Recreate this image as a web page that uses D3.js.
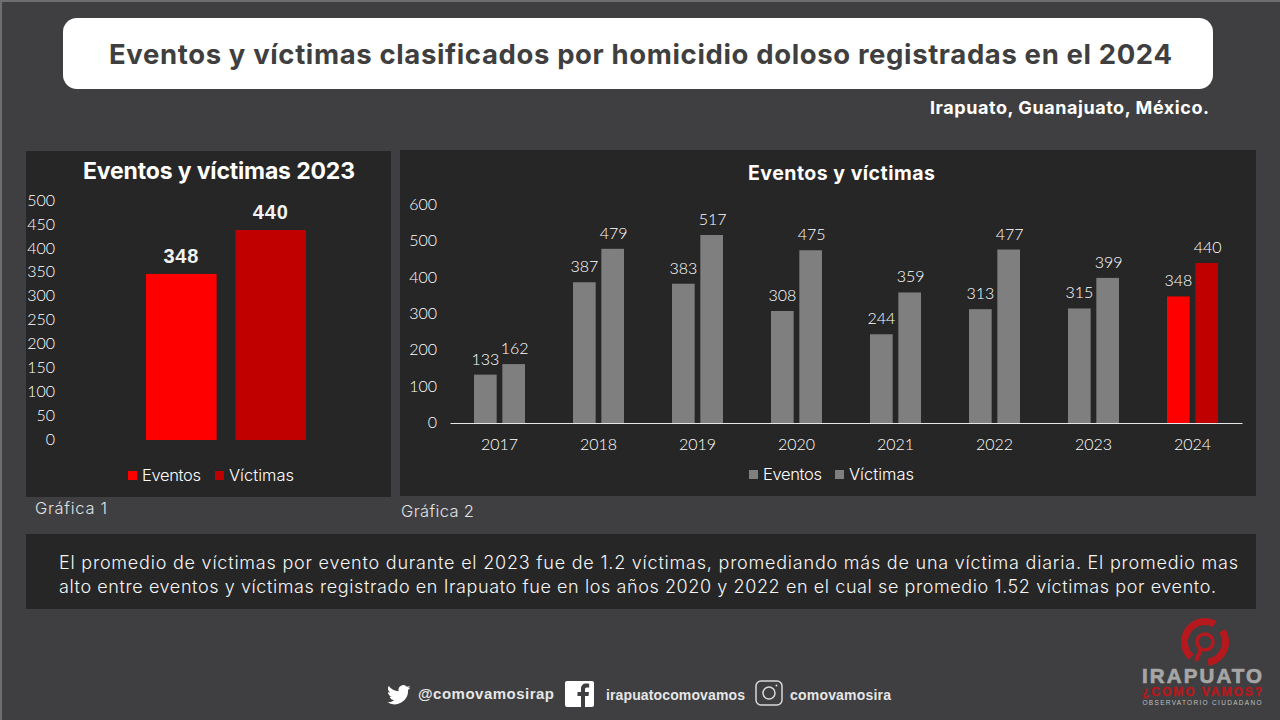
<!DOCTYPE html>
<html>
<head>
<meta charset="utf-8">
<script src="https://cdn.jsdelivr.net/npm/d3@7"></script>
<style>
  html, body { margin: 0; padding: 0; background: #3f3f41; }
  svg { display: block; }
</style>
</head>
<body>
<div id="graph"></div>
<script>
// Chart data
const series = ["Eventos", "Víctimas"];
const totals2024 = [348, 440];
const years = ["2017", "2018", "2019", "2020", "2021", "2022", "2023", "2024"];
const eventos = [133, 387, 383, 308, 244, 313, 315, 348];
const victimas = [162, 479, 517, 475, 359, 477, 399, 440];
const ticks1 = [0, 50, 100, 150, 200, 250, 300, 350, 400, 450, 500];
const ticks2 = [0, 100, 200, 300, 400, 500, 600];
const noteLines = [
  "El promedio de víctimas por evento durante el 2023 fue de 1.2 víctimas, promediando más de una víctima diaria. El promedio mas",
  "alto entre eventos y víctimas registrado en Irapuato fue en los años 2020 y 2022 en el cual se promedio 1.52 víctimas por evento."
];

const RED = "#ff0000", DARKRED = "#c00000", GREY = "#7f7f7f", PANEL = "#262626", LIGHT = "#ffffff";
const FONT = "Inter, Lato, sans-serif", NUM = "Lato, sans-serif", HEAVY = "'Liberation Sans', sans-serif";

const svg = d3.select("#graph").append("svg").attr("width", 1280).attr("height", 720);

function label(g, x, y, txt, size, opts = {}) {
  const t = g.append("text")
    .attr("x", x).attr("y", y)
    .attr("font-size", size)
    .attr("font-family", opts.font || FONT)
    .attr("fill", opts.fill || "#fff")
    .attr("font-weight", opts.weight || 300)
    .attr("text-anchor", opts.anchor || "start")
    .text(txt);
  if (opts.len) t.attr("textLength", opts.len).attr("lengthAdjust", "spacing");
  return t;
}

// Background and header
svg.append("rect").attr("width", 1280).attr("height", 720).attr("fill", "#6e6e6e");
svg.append("rect").attr("x", 2).attr("y", 2).attr("width", 1278).attr("height", 718).attr("fill", "#3f3f41");
svg.append("rect").attr("x", 63).attr("y", 18).attr("width", 1150).attr("height", 71).attr("rx", 14).attr("fill", "#fff");
label(svg, 640.5, 64, "Eventos y víctimas clasificados por homicidio doloso registradas en el 2024", 27.5, {fill: "#3f3f3f", weight: 700, anchor: "middle", len: 1063});
label(svg, 1209, 114, "Irapuato, Guanajuato, México.", 18, {weight: 700, anchor: "end", len: 279});

// Panels
svg.append("rect").attr("x", 26).attr("y", 151).attr("width", 365).attr("height", 346).attr("fill", PANEL);
svg.append("rect").attr("x", 400).attr("y", 150).attr("width", 856).attr("height", 346).attr("fill", PANEL);
svg.append("rect").attr("x", 26).attr("y", 534).attr("width", 1230).attr("height", 75).attr("fill", PANEL);

// Chart 1
const g1 = svg.append("g");
const x1 = d3.scaleBand().domain(series).range([146, 306]).paddingInner(0.21);
const y1 = d3.scaleLinear().domain([0, 500]).range([440, 201.4]);
const color1 = d3.scaleOrdinal().domain(series).range([RED, DARKRED]);

label(g1, 219, 179, "Eventos y víctimas 2023", 23, {weight: 700, anchor: "middle", len: 272});

const axis1 = g1.append("g").attr("transform", "translate(55,0)")
  .call(d3.axisLeft(y1).tickValues(ticks1).tickSize(0).tickPadding(0));
axis1.select(".domain").remove();
axis1.selectAll("text").attr("fill", LIGHT).attr("font-size", 16).attr("font-weight", 300).attr("font-family", NUM).attr("dy", "0.25em");

g1.selectAll(".bar").data(totals2024).join("rect")
  .attr("class", "bar")
  .attr("x", (d, i) => x1(series[i]))
  .attr("y", d => y1(d))
  .attr("width", x1.bandwidth())
  .attr("height", d => y1(0) - y1(d))
  .attr("fill", (d, i) => color1(series[i]));

g1.selectAll(".val").data(totals2024).join("text")
  .attr("class", "val")
  .attr("x", (d, i) => x1(series[i]) + x1.bandwidth() / 2)
  .attr("y", d => y1(d) - 11)
  .attr("text-anchor", "middle")
  .attr("font-size", 20)
  .attr("font-weight", 700)
  .attr("font-family", HEAVY)
  .attr("letter-spacing", 0.8)
  .attr("fill", "#f2f2f2")
  .text(d => d);

function legend(g, items) {
  items.forEach(it => {
    g.append("rect").attr("x", it.x).attr("y", it.y - 9).attr("width", 9).attr("height", 9).attr("fill", it.color);
    label(g, it.x + 14, it.y + 1, it.name, 16.5, {fill: LIGHT, len: it.len});
  });
}
legend(g1, [
  {name: series[0], x: 128, y: 480, color: RED, len: 59},
  {name: series[1], x: 215, y: 480, color: DARKRED, len: 65}
]);
label(svg, 35, 514, "Gráfica 1", 16.5, {fill: "#e0e0e0", len: 72});

// Chart 2
const g2 = svg.append("g");
const x2 = d3.scaleBand().domain(years).range([450, 1242]).paddingInner(0.485).paddingOuter(0.2425);
const xs = d3.scaleBand().domain(series).range([0, x2.bandwidth()]).paddingInner(0.2);
const y2 = d3.scaleLinear().domain([0, 600]).range([423, 204.8]);

label(g2, 841.5, 180, "Eventos y víctimas", 19.5, {weight: 700, anchor: "middle", len: 187});

const axisY2 = g2.append("g").attr("transform", "translate(437,-1)")
  .call(d3.axisLeft(y2).tickValues(ticks2).tickSize(0).tickPadding(0));
axisY2.select(".domain").remove();
axisY2.selectAll("text").attr("fill", LIGHT).attr("font-size", 16).attr("font-weight", 300).attr("font-family", NUM).attr("dy", "0.35em");

const axisX2 = g2.append("g").attr("transform", "translate(0,423)")
  .call(d3.axisBottom(x2).tickSize(0).tickPadding(16));
axisX2.select(".domain").attr("stroke", "#e6e6e6").attr("stroke-width", 1);
axisX2.selectAll("text").attr("fill", LIGHT).attr("font-size", 16).attr("font-weight", 300).attr("font-family", NUM);

const barColor = (yr, name) => yr !== "2024" ? GREY : color1(name);
[eventos, victimas].forEach((vals, s) => {
  const name = series[s];
  g2.selectAll(".bar" + s).data(vals).join("rect")
    .attr("class", "bar" + s)
    .attr("x", (d, i) => x2(years[i]) + xs(name))
    .attr("y", d => y2(d))
    .attr("width", xs.bandwidth())
    .attr("height", d => y2(0) - y2(d))
    .attr("fill", (d, i) => barColor(years[i], name));
  g2.selectAll(".lab" + s).data(vals).join("text")
    .attr("class", "lab" + s)
    .attr("x", (d, i) => x2(years[i]) + xs(name) + xs.bandwidth() / 2 + (s === 0 ? 0 : 1))
    .attr("y", d => y2(d) - 10)
    .attr("text-anchor", "middle")
    .attr("font-size", 16)
    .attr("font-weight", 300)
    .attr("font-family", NUM)
    .attr("fill", LIGHT)
    .text(d => d);
});

legend(g2, [
  {name: series[0], x: 749, y: 479, color: GREY, len: 59},
  {name: series[1], x: 835, y: 479, color: GREY, len: 65}
]);
label(svg, 401, 517, "Gráfica 2", 16.5, {fill: "#e0e0e0", len: 73});

// Note
[1179, 1157].forEach((w, i) => {
  label(svg, 59, 569 + i * 23.5, noteLines[i], 18, {fill: "#f5f5f5", len: w});
});

// Footer social icons
const foot = svg.append("g");
foot.append("path")
  .attr("transform", "translate(387,683) scale(0.98)")
  .attr("d", "M24 4.6c-.9.4-1.8.7-2.8.8 1-.6 1.8-1.6 2.2-2.7-1 .6-2 1-3.1 1.2A4.9 4.9 0 0 0 11.9 8.400A13.900 13.900 0 0 1 1.700 3.100a4.900 4.900 0 0 0 1.500 6.600c-.8 0-1.600-.2-2.200-.6 0 2.400 1.700 4.400 3.900 4.900-.7.200-1.500.2-2.200.1.600 2 2.400 3.400 4.600 3.400A9.900 9.900 0 0 1 0 19.500 13.900 13.900 0 0 0 21.500 7.100c1-.7 1.800-1.500 2.500-2.500z")
  .attr("fill", "#fff");
label(foot, 418, 699, "@comovamosirap", 15, {fill: "#e6e6e6", weight: 700, font: HEAVY, len: 136});
foot.append("rect").attr("x", 565).attr("y", 681).attr("width", 29).attr("height", 26).attr("rx", 2).attr("fill", "#fff");
foot.append("path")
  .attr("d", "M585 707v-11h3.500l.5-4h-4v-2.500c0-1.200.4-2 2-2h2.200v-3.700c-.4 0-1.700-.2-3.100-.2-3.100 0-5.100 1.900-5.100 5.300V692h-3.500v4H581v11z")
  .attr("fill", "#3f3f41");
label(foot, 606, 700, "irapuatocomovamos", 14, {fill: "#e6e6e6", weight: 700, font: HEAVY, len: 139});
foot.append("rect").attr("x", 756).attr("y", 681).attr("width", 26).attr("height", 24).attr("rx", 5).attr("fill", "none").attr("stroke", "#d9d9d9").attr("stroke-width", 1.5);
foot.append("circle").attr("cx", 769).attr("cy", 693).attr("r", 6).attr("fill", "none").attr("stroke", "#d9d9d9").attr("stroke-width", 1.5);
foot.append("circle").attr("cx", 776.5).attr("cy", 685.5).attr("r", 1).attr("fill", "#d9d9d9");
label(foot, 790, 700, "comovamosira", 14, {fill: "#e6e6e6", weight: 700, font: HEAVY, len: 101});

// Logo
const logo = svg.append("g").attr("transform", "translate(1205,642)");
const ring = d3.arc().innerRadius(17).outerRadius(24);
const LOGO_RED = "#b5191e";
logo.append("path").attr("d", ring({startAngle: -2.4, endAngle: 0.5})).attr("fill", LOGO_RED);
logo.append("path").attr("d", ring({startAngle: 1.0, endAngle: 3.0})).attr("fill", LOGO_RED);
logo.append("circle").attr("cx", 0).attr("cy", 0).attr("r", 8).attr("fill", "none").attr("stroke", LOGO_RED).attr("stroke-width", 3.5);
logo.append("line").attr("x1", -4).attr("y1", 7).attr("x2", -9).attr("y2", 19).attr("stroke", LOGO_RED).attr("stroke-width", 4);
label(svg, 1202, 683, "IRAPUATO", 20.5, {fill: "#a6a6a6", weight: 700, anchor: "middle", font: HEAVY, len: 120}).attr("stroke", "#a6a6a6").attr("stroke-width", 0.7);
label(svg, 1202, 696, "¿COMO VAMOS?", 12, {fill: "#b5191e", weight: 700, anchor: "middle", font: HEAVY, len: 120}).attr("stroke", "#b5191e").attr("stroke-width", 0.5);
label(svg, 1202, 705, "OBSERVATORIO CIUDADANO", 6.5, {fill: "#bfbfbf", weight: 400, anchor: "middle", font: HEAVY, len: 119});
</script>
</body>
</html>
